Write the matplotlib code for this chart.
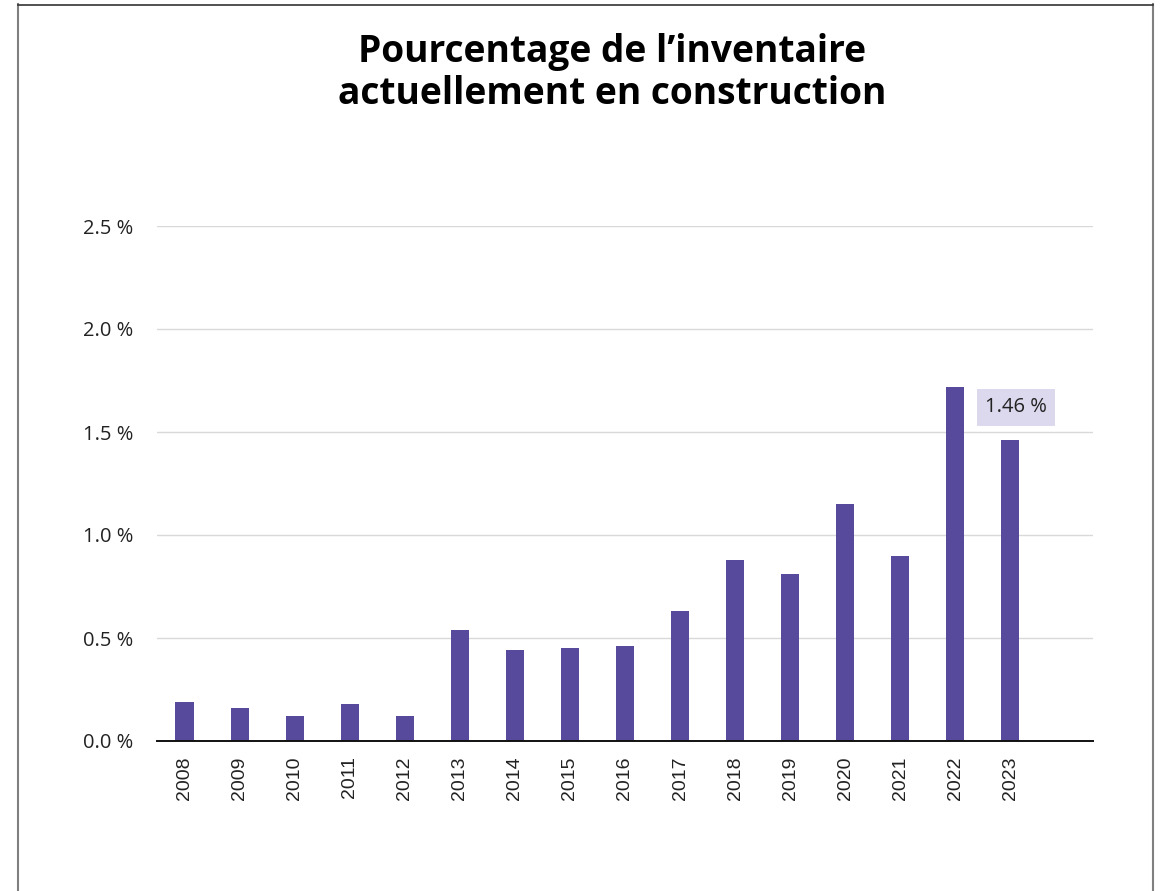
import matplotlib
matplotlib.use("Agg")
import matplotlib.pyplot as plt
from matplotlib.lines import Line2D

years = ["2008", "2009", "2010", "2011", "2012", "2013", "2014", "2015",
         "2016", "2017", "2018", "2019", "2020", "2021", "2022", "2023"]
values = [0.19, 0.16, 0.12, 0.18, 0.12, 0.54, 0.44, 0.45,
          0.46, 0.63, 0.88, 0.81, 1.15, 0.90, 1.72, 1.46]
yticks = [0.0, 0.5, 1.0, 1.5, 2.0, 2.5]
ytick_labels = ["0.0 %", "0.5 %", "1.0 %", "1.5 %", "2.0 %", "2.5 %"]
title = "Pourcentage de l\u2019inventaire\nactuellement en construction"
annot_label = "1.46 %"

W, H = 1160, 891
fig = plt.figure(figsize=(W / 100, H / 100), dpi=100)
fig.patch.set_facecolor("white")

ax = fig.add_axes([157 / W, 1 - 741 / H, (1093 - 157) / W, (741 - 226) / H])
x = list(range(len(years)))
ax.bar(x, values, width=0.33, color="#574a9c", zorder=3)
ax.set_xlim(-0.5, len(years) + 0.5)
ax.set_ylim(0, 2.5)
ax.set_yticks(yticks)
ax.set_yticklabels(ytick_labels, fontfamily="Open Sans", fontsize=14.5, color="#222222")
ax.set_xticks(x)
ax.set_xticklabels(years, rotation=90, fontfamily="Liberation Sans", fontsize=14, color="#222222")
ax.tick_params(axis="both", length=0)
ax.tick_params(axis="y", pad=17)
ax.tick_params(axis="x", pad=11)
ax.grid(axis="y", color="#d9d9d9", linewidth=1, zorder=0)
for s in ["left", "right", "top"]:
    ax.spines[s].set_visible(False)
ax.spines["bottom"].set_color("#111111")
ax.spines["bottom"].set_linewidth(1.4)
ax.spines["bottom"].set_zorder(4)

# annotation for last bar
ax.annotate(annot_label, xy=(15.1, 1.62), xycoords="data",
            ha="center", va="center", fontfamily="Open Sans", fontsize=14.5,
            color="#222222",
            bbox=dict(boxstyle="square,pad=0.42", fc="#dcd8ee", ec="none"))

fig.text(612 / W, 1 - 73 / H, title, ha="center", va="center",
         fontfamily="Open Sans", fontweight="bold", fontsize=26.7,
         linespacing=1.12, color="#000000")

# frame
fig.add_artist(Line2D([17.5 / W, 17.5 / W], [0, 1 - 4 / H], color="#808080", linewidth=1.5, transform=fig.transFigure))
fig.add_artist(Line2D([1152.5 / W, 1152.5 / W], [0, 1 - 4 / H], color="#808080", linewidth=1.5, transform=fig.transFigure))
fig.add_artist(Line2D([17.5 / W, 1152.5 / W], [1 - 4.5 / H, 1 - 4.5 / H], color="#333333", linewidth=1.2, transform=fig.transFigure))

fig.savefig("out.png", dpi=100)
